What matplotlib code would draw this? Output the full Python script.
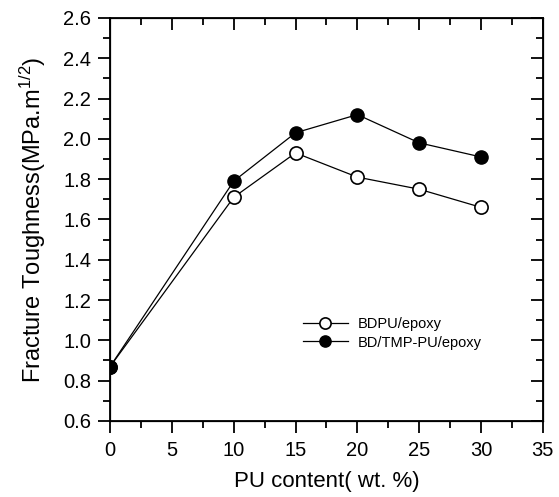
import matplotlib
matplotlib.use("Agg")
import matplotlib.pyplot as plt
from matplotlib.ticker import MultipleLocator, FormatStrFormatter

plt.rcParams['font.family'] = ['Liberation Sans', 'DejaVu Sans']
plt.rcParams['mathtext.fontset'] = 'custom'
plt.rcParams['mathtext.rm'] = 'Liberation Sans'
plt.rcParams['mathtext.it'] = 'Liberation Sans'

pu_content = [0, 10, 15, 20, 25, 30]
bdpu = [0.87, 1.71, 1.93, 1.81, 1.75, 1.66]
bdtmp = [0.87, 1.79, 2.03, 2.12, 1.98, 1.91]
series_labels = ["BDPU/epoxy", "BD/TMP-PU/epoxy"]

fig = plt.figure(figsize=(5.59, 4.97), dpi=100)
ax = fig.add_axes([0.197, 0.153, 0.774, 0.811])

ax.plot(pu_content, bdtmp, '-o', color='black', lw=0.9, ms=9.5,
        markerfacecolor='black', markeredgecolor='black', mew=1.0,
        label=series_labels[1], zorder=3)
ax.plot(pu_content, bdpu, '-o', color='black', lw=0.9, ms=9.5,
        markerfacecolor='white', markeredgecolor='black', mew=1.2,
        label=series_labels[0], zorder=2)

ax.set_xlim(0, 35)
ax.set_ylim(0.6, 2.6)
ax.xaxis.set_major_locator(MultipleLocator(5))
ax.xaxis.set_minor_locator(MultipleLocator(2.5))
ax.yaxis.set_major_locator(MultipleLocator(0.2))
ax.yaxis.set_minor_locator(MultipleLocator(0.1))
ax.yaxis.set_major_formatter(FormatStrFormatter('%.1f'))

ax.tick_params(which='major', direction='out', length=8.5, width=1.3, labelsize=14.5, pad=5)
ax.tick_params(which='minor', direction='out', length=5, width=1.3)
ax.tick_params(axis='x', which='major', pad=6)

for sp in ax.spines.values():
    sp.set_linewidth(1.3)

# mirrored inward ticks on top and right
axt = ax.twiny()
axt.set_xlim(ax.get_xlim())
axt.xaxis.set_major_locator(MultipleLocator(5))
axt.xaxis.set_minor_locator(MultipleLocator(2.5))
axt.tick_params(which='major', direction='in', length=8.5, width=1.3, labeltop=False)
axt.tick_params(which='minor', direction='in', length=5, width=1.3)
axr = ax.twinx()
axr.set_ylim(ax.get_ylim())
axr.yaxis.set_major_locator(MultipleLocator(0.2))
axr.yaxis.set_minor_locator(MultipleLocator(0.1))
axr.tick_params(which='major', direction='in', length=8.5, width=1.3, labelright=False)
axr.tick_params(which='minor', direction='in', length=5, width=1.3)

ax.set_xlabel("PU content( wt. %)", fontsize=16, labelpad=8)
ax.set_ylabel(r"Fracture Toughness(MPa.m$^{1/2}$)", fontsize=17, labelpad=11)

handles, labels = ax.get_legend_handles_labels()
leg = ax.legend(handles[::-1], labels[::-1], loc='upper left',
                bbox_to_anchor=(0.415, 0.29), frameon=False, fontsize=10.5,
                handlelength=3.1, handletextpad=0.7, labelspacing=0.3,
                markerscale=0.85)

fig.savefig("out.png", dpi=100)
